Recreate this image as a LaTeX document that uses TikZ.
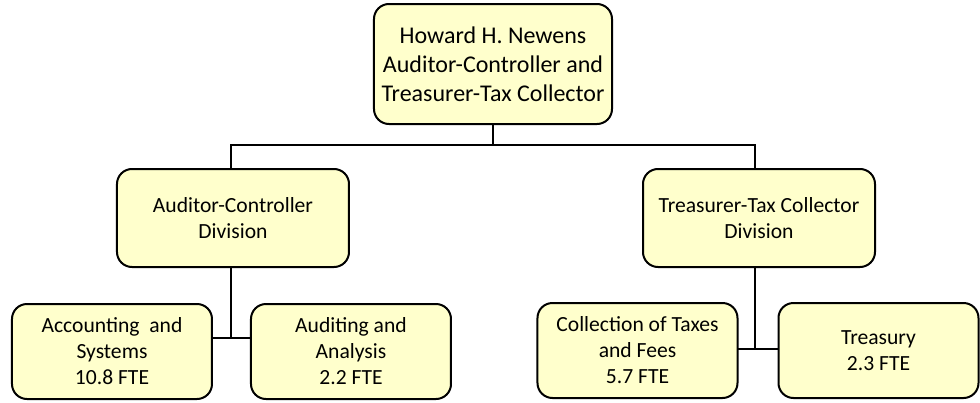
\documentclass[tikz,border=0pt]{standalone}
\usepackage{fontspec}
\setmainfont{Carlito}
\usepackage{xcolor}
\usepackage{tikz}
\usetikzlibrary{positioning, calc}
\definecolor{boxfill}{RGB}{255,255,204}
\tikzset{
    orgbox/.style={rectangle, rounded corners=7.5pt, draw=black, line width=1pt, fill=boxfill, align=center, inner sep=2pt, outer sep=0pt},
    chiefbox/.style={orgbox, minimum width=119pt, minimum height=60pt, font=\fontsize{12}{14.5}\selectfont},
    divbox/.style={orgbox, minimum width=116pt, minimum height=49pt, font=\fontsize{10.8}{13}\selectfont},
    unitbox/.style={orgbox, minimum width=100pt, minimum height=47.5pt, font=\fontsize{10.8}{13}\selectfont},
    link/.style={draw=black, line width=0.9pt}
}
\begin{document}
\begin{tikzpicture}
  \node[chiefbox] (chief) {Howard H. Newens\\Auditor-Controller and\\Treasurer-Tax Collector};
  \useasboundingbox ([xshift=-246.5pt, yshift=32pt]chief.center) rectangle ++(490pt,-201pt);
  \node[divbox, below left=22.5pt and 12.5pt of chief.south west] (acdiv) {Auditor-Controller\\Division};
  \node[divbox, below right=22.5pt and 15.5pt of chief.south east] (ttdiv) {Treasurer-Tax Collector\\Division};
  \node[unitbox, below left=18.5pt and 10.5pt of acdiv.south] (acct) {Accounting~ and\\Systems\\10.8 FTE};
  \node[unitbox, below right=18.5pt and 9pt of acdiv.south] (audit) {Auditing and\\Analysis\\2.2 FTE};
  \node[unitbox, below left=18pt and 10.75pt of ttdiv.south] (collect) {Collection of Taxes\\and Fees\\5.7 FTE};
  \node[unitbox, below right=18pt and 9.75pt of ttdiv.south] (treas) {Treasury\\2.3 FTE};
  \coordinate (bus) at ([yshift=-10.5pt]chief.south);
  \draw[link] (chief.south) -- (bus);
  \draw[link] ([xshift=-1pt]acdiv.north) |- (bus) -| ([xshift=-2pt]ttdiv.north);
  \coordinate (acjoin) at ($(acdiv.south)+(-1pt,-35.5pt)$);
  \draw[link] ([xshift=-1pt]acdiv.south) -- (acjoin);
  \draw[link] (acct.east |- acjoin) -- (audit.west |- acjoin);
  \coordinate (ttjoin) at ($(ttdiv.south)+(-2pt,-41pt)$);
  \draw[link] ([xshift=-2pt]ttdiv.south) -- (ttjoin);
  \draw[link] (collect.east |- ttjoin) -- (treas.west |- ttjoin);
\end{tikzpicture}
\end{document}
